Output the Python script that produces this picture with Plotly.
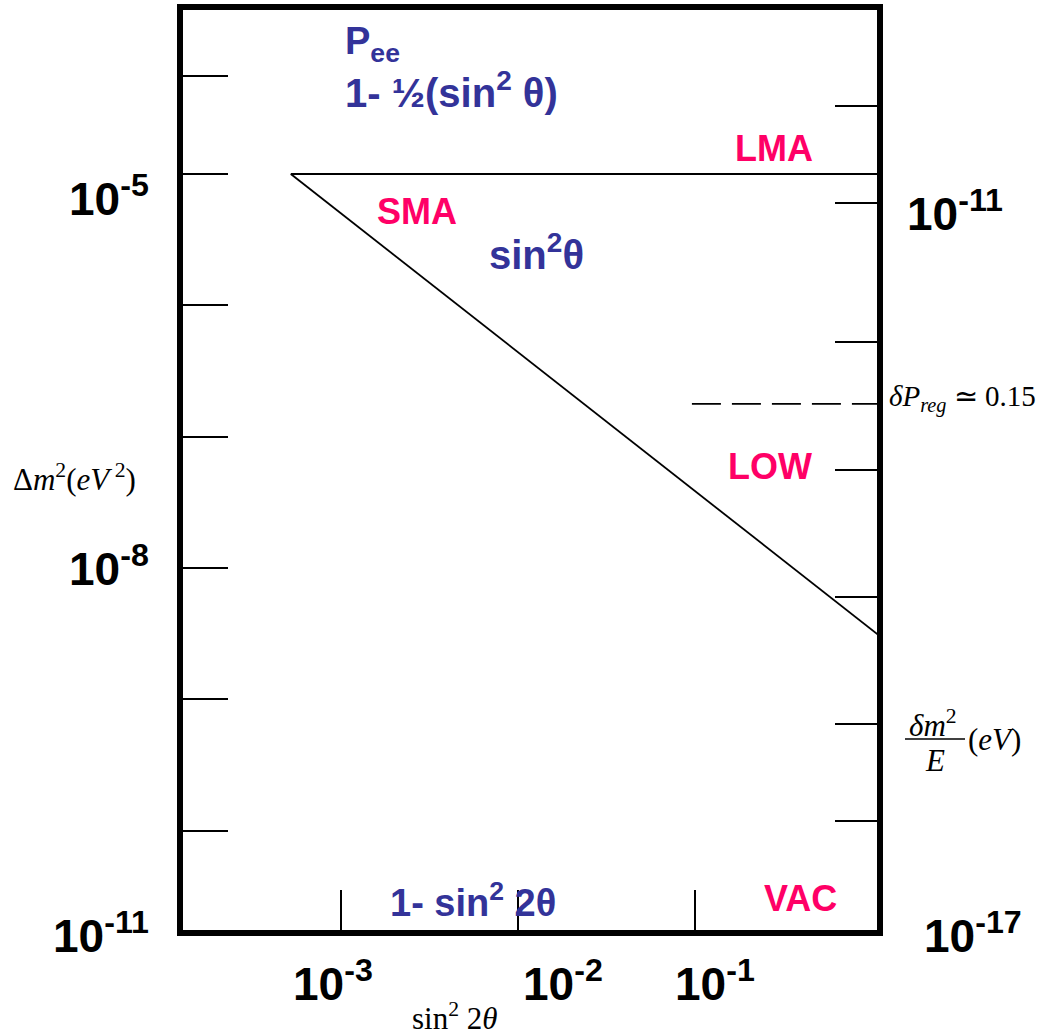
import plotly.graph_objects as go

# Schematic of the neutrino oscillation parameter plane
# x: sin^2 2θ (log), left y: Δm² in eV² (log), right y: δm²/E in eV (log)

# Boundary lines (x, y pairs)
diag_x = [5.2e-4, 1.1]          # MSW triangle hypotenuse
diag_y = [1.0e-5, 3.05e-9]
lma_x = [5.2e-4, 1.1]           # LMA upper edge
lma_y = [1.0e-5, 1.0e-5]
preg_x = [0.096, 1.1]           # δP_reg ≃ 0.15 level (right axis)
preg_y = [2.2e-13, 2.2e-13]

# Tick positions (decade exponents)
x_tick_exp = [-3, -2, -1]
left_tick_exp = [-4.25, -5, -6, -7, -8, -9, -10]
right_tick_exp = [-10.2, -11, -12.15, -13.2, -14.25, -15.3, -16.1]

# Tick labels
x_tick_labels = ["10<sup>-3</sup>", "10<sup>-2</sup>", "10<sup>-1</sup>"]
left_tick_labels = ["10<sup>-5</sup>", "10<sup>-8</sup>", "10<sup>-11</sup>"]
right_tick_labels = ["10<sup>-11</sup>", "10<sup>-17</sup>"]

# Region names
region_names = ["SMA", "LMA", "LOW", "VAC"]

BLUE = "#333399"
PINK = "#FF0066"
SANS = "Liberation Sans, Arial, sans-serif"
SERIF = "Liberation Serif, Times New Roman, serif"

W, H = 1041, 1036
L, R, T, B = 183, 877, 10, 930   # plot-area edges in page pixels


def px(p):
    return (p - L) / (R - L)


def py(p):
    return (B - p) / (B - T)


fig = go.Figure()
line_style = dict(color="black", width=1.8)
fig.add_trace(go.Scatter(x=lma_x, y=lma_y, mode="lines", line=line_style,
                         hoverinfo="skip"))
fig.add_trace(go.Scatter(x=diag_x, y=diag_y, mode="lines", line=line_style,
                         hoverinfo="skip"))
fig.add_trace(go.Scatter(x=preg_x, y=preg_y, mode="lines", yaxis="y2",
                         line=dict(color="black", width=1.8, dash="29px,11px"),
                         hoverinfo="skip"))

axis_common = dict(type="log", showgrid=False, zeroline=False,
                   showticklabels=False, ticks="inside", tickcolor="black",
                   tickwidth=1.6, automargin=False)

fig.update_layout(
    width=W, height=H,
    margin=dict(l=L, r=W - R, t=T, b=H - B, autoexpand=False),
    paper_bgcolor="white", plot_bgcolor="white",
    showlegend=False,
    xaxis=dict(**axis_common, range=[-3.893, 0.028],
               tickvals=[10 ** e for e in x_tick_exp], ticklen=40,
               showline=True, linecolor="black", linewidth=6, mirror=True),
    yaxis=dict(**axis_common, range=[-10.757, -3.751],
               tickvals=[10 ** e for e in left_tick_exp], ticklen=45,
               showline=True, linecolor="black", linewidth=6, mirror=True),
    yaxis2=dict(**axis_common, range=[-17.0, -9.407], overlaying="y",
                side="right", showline=False,
                tickvals=[10 ** e for e in right_tick_exp], ticklen=42),
)

ann = []


def text(t, x, y, size, color="black", family=SANS, bold=True,
         xanchor="center", yanchor="middle"):
    ann.append(dict(text=t, x=px(x), y=py(y), xref="paper", yref="paper",
                    showarrow=False, xanchor=xanchor, yanchor=yanchor,
                    font=dict(size=size, color=color, family=family,
                              weight="bold" if bold else "normal")))


# axis tick labels
for lab, yy in zip(left_tick_labels, [196, 566, 933]):
    text(lab, 151, yy, 46, xanchor="right")
for lab, yy, xx in zip(right_tick_labels, [211, 933], [905, 922]):
    text(lab, xx, yy, 46, xanchor="left")
for lab, xx in zip(x_tick_labels, [333, 563, 715]):
    text(lab, xx, 981, 46)

# probability formulas
text("P<sub>ee</sub>", 343, 44, 38, BLUE, xanchor="left")
text("1- \u00bd(sin<sup>2</sup> \u03b8)", 343, 90, 40, BLUE, xanchor="left")
text("sin<sup>2</sup>\u03b8", 536, 252, 40, BLUE)
text("1- sin<sup>2</sup> 2\u03b8", 473, 900, 38, BLUE)

# region names
for name, (xx, yy) in zip(region_names, [(417, 211), (774, 149), (770, 467), (800, 898)]):
    text(name, xx, yy, 36, PINK)

# axis titles (math style)
text("\u0394<i>m</i><sup>2</sup>(<i>eV</i><sup> 2</sup>)", 11, 478, 31,
     family=SERIF, bold=False, xanchor="left")
text("<i>\u03b4P</i><sub><i>reg</i></sub> \u2243 0.15", 887, 398, 29,
     family=SERIF, bold=False, xanchor="left")
text("<i>\u03b4m</i><sup>2</sup>", 933, 723, 31, family=SERIF, bold=False)
text("<i>E</i>", 935, 760, 31, family=SERIF, bold=False)
text("(<i>eV</i>)", 966, 739, 31, family=SERIF, bold=False, xanchor="left")
text("sin<sup>2</sup> 2<i>\u03b8</i>", 455, 1016, 31, family=SERIF, bold=False)

fig.update_layout(annotations=ann)

# fraction bar of δm²/E
fig.add_shape(type="line", xref="paper", yref="paper",
              x0=px(905), x1=px(965), y0=py(739), y1=py(739),
              line=dict(color="black", width=1.5))

fig.write_html("out.html")
